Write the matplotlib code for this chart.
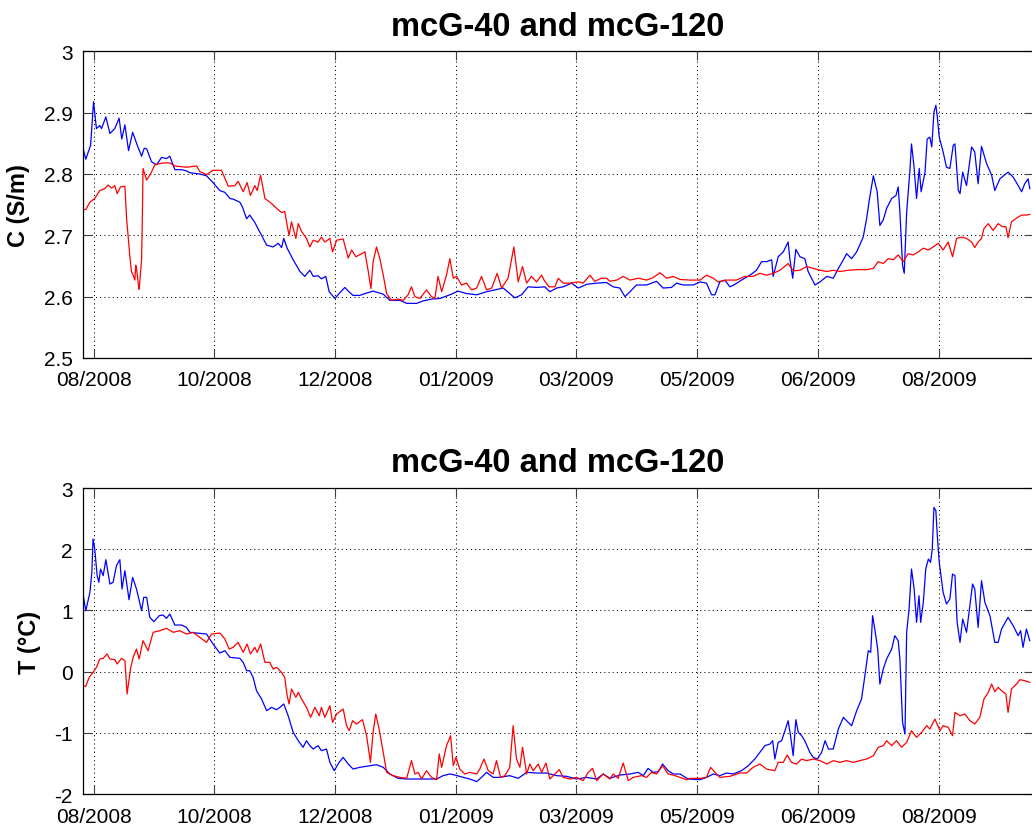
import numpy as np
import matplotlib
matplotlib.use("Agg")
import matplotlib.pyplot as plt

plt.rcParams['font.family'] = ['Liberation Sans', 'DejaVu Sans']

# days since 30 Aug 2008
tick_days = [0, 50, 100, 150, 200, 250, 300, 350]
tick_labels = ['08/2008', '10/2008', '12/2008', '01/2009', '03/2009', '05/2009', '06/2009', '08/2009']

# conductivity, mcG-40 (blue)
c40_day = [-4.3, -3.2, -1.2, 0.0, 1.2, 2.6, 3.3, 5.1, 6.8, 8.8, 10.6, 11.7, 13.0, 14.5, 16.2, 18.1, 19.9, 21.0,
           22.0, 24.0, 26.1, 28.2, 30.2, 31.6, 33.7, 36.5, 38.5, 39.9, 44.0, 46.8, 49.5, 52.3, 54.4, 56.5, 57.8,
           60.6, 61.7, 63.4, 64.7, 66.8, 69.6, 71.7, 74.4, 76.5, 77.9, 78.8, 80.2, 82.7, 85.5, 87.5, 89.6, 91.0,
           93.0, 94.4, 96.2, 97.6, 100.0, 101.7, 104.1, 105.5, 107.5, 110.3, 112.4, 115.8, 120.0, 122.7, 126.9,
           129.7, 133.8, 136.5, 140.0, 143.5, 147.6, 151.0, 154.5, 158.7, 162.8, 166.2, 169.7, 172.4, 174.5,
           177.3, 180.0, 183.5, 186.9, 189.0, 191.8, 194.5, 198.0, 200.8, 204.2, 208.4, 212.5, 215.2, 218.0,
           220.1, 222.2, 224.9, 229.1, 233.2, 235.9, 239.4, 241.5, 244.2, 248.4, 251.2, 253.9, 256.0, 257.4,
           259.4, 261.5, 263.6, 265.7, 268.4, 271.9, 274.6, 276.7, 278.8, 280.9, 281.5, 283.6, 285.7, 287.7,
           288.4, 289.6, 290.9, 292.6, 294.6, 296.0, 298.8, 300.9, 303.7, 306.4, 308.5, 310.6, 311.9, 314.0,
           316.1, 318.8, 320.2, 321.3, 323.0, 324.6, 325.7, 327.1, 328.5, 330.6, 332.4, 333.3, 334.0, 335.1,
           335.8, 336.8, 338.1, 338.8, 339.8, 340.9, 342.0, 342.8, 344.4, 345.3, 346.4, 347.2, 348.1, 348.9,
           349.5, 350.3, 351.9, 353.3, 354.7, 356.1, 356.8, 358.2, 358.9, 360.0, 361.6, 363.7, 365.0, 366.4,
           367.8, 369.9, 372.0, 373.3, 375.4, 378.8, 380.9, 383.0, 384.4, 385.7, 387.1, 387.8]
c40 = [2.841, 2.824, 2.847, 2.918, 2.874, 2.879, 2.874, 2.893, 2.866, 2.874, 2.891, 2.857, 2.880, 2.838, 2.868,
       2.847, 2.829, 2.842, 2.841, 2.820, 2.815, 2.827, 2.825, 2.829, 2.807, 2.807, 2.805, 2.802, 2.800, 2.797,
       2.786, 2.773, 2.770, 2.760, 2.759, 2.754, 2.746, 2.727, 2.733, 2.721, 2.700, 2.684, 2.681, 2.687, 2.680,
       2.695, 2.679, 2.660, 2.641, 2.633, 2.643, 2.633, 2.634, 2.629, 2.633, 2.608, 2.597, 2.605, 2.615, 2.609,
       2.602, 2.602, 2.605, 2.609, 2.604, 2.594, 2.594, 2.589, 2.589, 2.593, 2.596, 2.597, 2.603, 2.609, 2.605,
       2.603, 2.608, 2.611, 2.614, 2.605, 2.598, 2.603, 2.616, 2.615, 2.616, 2.608, 2.614, 2.616, 2.622, 2.614,
       2.620, 2.622, 2.623, 2.616, 2.614, 2.600, 2.608, 2.619, 2.619, 2.625, 2.614, 2.615, 2.622, 2.619, 2.619,
       2.624, 2.622, 2.603, 2.603, 2.624, 2.627, 2.616, 2.620, 2.627, 2.635, 2.643, 2.657, 2.657, 2.660, 2.633,
       2.665, 2.673, 2.689, 2.662, 2.630, 2.677, 2.665, 2.662, 2.641, 2.619, 2.624, 2.633, 2.630, 2.646, 2.660,
       2.670, 2.662, 2.673, 2.697, 2.727, 2.757, 2.797, 2.771, 2.716, 2.725, 2.744, 2.760, 2.765, 2.779, 2.738,
       2.651, 2.638, 2.738, 2.803, 2.849, 2.814, 2.760, 2.809, 2.771, 2.803, 2.857, 2.860, 2.844, 2.901, 2.912,
       2.893, 2.860, 2.836, 2.811, 2.809, 2.847, 2.849, 2.773, 2.768, 2.803, 2.781, 2.844, 2.836, 2.784, 2.845,
       2.817, 2.798, 2.773, 2.792, 2.803, 2.795, 2.781, 2.771, 2.784, 2.792, 2.776]

# conductivity, mcG-120 (red)
c120_day = [-4.3, -3.2, -1.5, 0.5, 2.6, 4.7, 6.0, 7.5, 8.8, 9.8, 11.2, 13.0, 13.7, 15.0, 15.7, 16.4, 17.1, 17.5,
            17.8, 18.6, 18.9, 19.9, 20.2, 20.5, 22.0, 24.0, 25.4, 28.8, 31.6, 33.7, 38.5, 42.7, 44.0, 46.8, 49.5,
            53.0, 55.8, 58.5, 59.9, 62.0, 63.6, 65.0, 66.8, 67.8, 69.2, 71.0, 73.7, 75.8, 77.9, 79.2, 80.2, 81.0,
            82.0, 83.8, 84.8, 86.2, 88.2, 89.6, 91.0, 93.0, 94.4, 95.8, 97.9, 99.0, 100.7, 103.4, 105.5, 106.9,
            108.7, 111.0, 112.4, 113.8, 114.9, 115.8, 117.2, 118.6, 120.0, 121.4, 123.4, 126.2, 128.3, 130.3,
            131.7, 133.1, 135.2, 137.9, 140.0, 141.4, 142.7, 144.2, 146.2, 147.6, 149.0, 150.4, 152.4, 154.5,
            156.6, 158.7, 160.7, 162.8, 164.9, 167.2, 169.0, 171.7, 173.1, 174.1, 175.9, 177.7, 179.4, 181.4,
            183.5, 185.6, 186.9, 188.7, 191.1, 192.5, 194.5, 197.3, 200.8, 202.8, 205.6, 207.6, 210.4, 212.5,
            213.9, 216.7, 219.4, 222.2, 225.6, 229.1, 231.8, 234.6, 237.4, 240.1, 242.9, 247.0, 251.2, 253.9,
            256.7, 258.7, 262.2, 266.3, 269.8, 273.2, 276.0, 278.8, 281.5, 284.3, 287.7, 289.8, 292.6, 295.3,
            298.1, 300.9, 303.7, 306.4, 309.2, 312.6, 316.1, 320.2, 323.0, 325.0, 327.1, 329.2, 331.2, 333.3,
            335.4, 337.4, 339.5, 341.6, 343.7, 345.8, 347.8, 349.9, 351.9, 354.0, 355.8, 357.5, 359.6, 361.6,
            363.7, 365.0, 366.4, 367.8, 368.8, 370.6, 372.6, 374.7, 376.5, 377.9, 378.8, 380.2, 382.3, 384.4,
            386.4, 387.8]
c120 = [2.742, 2.742, 2.754, 2.760, 2.773, 2.776, 2.782, 2.777, 2.781, 2.768, 2.779, 2.780, 2.727, 2.668, 2.641,
        2.635, 2.627, 2.651, 2.646, 2.619, 2.612, 2.660, 2.720, 2.809, 2.790, 2.803, 2.815, 2.818, 2.818, 2.813,
        2.811, 2.813, 2.804, 2.799, 2.806, 2.806, 2.780, 2.781, 2.788, 2.771, 2.786, 2.765, 2.781, 2.773, 2.798,
        2.760, 2.752, 2.744, 2.737, 2.739, 2.716, 2.700, 2.722, 2.695, 2.719, 2.706, 2.695, 2.681, 2.692, 2.689,
        2.697, 2.689, 2.695, 2.673, 2.692, 2.694, 2.663, 2.676, 2.665, 2.670, 2.673, 2.641, 2.613, 2.657, 2.681,
        2.662, 2.635, 2.605, 2.594, 2.596, 2.594, 2.603, 2.616, 2.600, 2.597, 2.611, 2.600, 2.597, 2.633, 2.608,
        2.635, 2.662, 2.630, 2.633, 2.619, 2.622, 2.611, 2.614, 2.633, 2.611, 2.614, 2.638, 2.614, 2.630, 2.660,
        2.681, 2.624, 2.649, 2.622, 2.633, 2.624, 2.635, 2.625, 2.616, 2.616, 2.630, 2.622, 2.622, 2.624, 2.622,
        2.635, 2.625, 2.630, 2.630, 2.625, 2.627, 2.633, 2.627, 2.630, 2.627, 2.631, 2.639, 2.630, 2.633, 2.628,
        2.627, 2.627, 2.635, 2.630, 2.624, 2.627, 2.627, 2.633, 2.633, 2.638, 2.635, 2.638, 2.643, 2.654, 2.642,
        2.643, 2.649, 2.646, 2.643, 2.641, 2.643, 2.641, 2.643, 2.644, 2.644, 2.646, 2.657, 2.654, 2.662, 2.660,
        2.668, 2.657, 2.670, 2.668, 2.673, 2.679, 2.676, 2.681, 2.687, 2.676, 2.689, 2.665, 2.695, 2.697, 2.695,
        2.689, 2.680, 2.689, 2.695, 2.711, 2.719, 2.708, 2.719, 2.714, 2.714, 2.696, 2.722, 2.728, 2.733, 2.733,
        2.734]

# temperature, mcG-40 (blue)
t40_day = [-4.3, -3.2, -1.5, -0.7, -0.2, 0.5, 1.5, 2.2, 2.9, 4.0, 5.1, 6.8, 8.1, 9.5, 10.9, 11.8, 13.0, 14.7,
           16.2, 17.8, 19.9, 20.8, 22.0, 23.3, 25.0, 27.2, 28.8, 30.2, 31.6, 33.7, 36.5, 38.5, 39.9, 44.0, 46.8,
           49.5, 52.3, 54.4, 56.5, 60.6, 62.0, 63.4, 64.7, 66.1, 67.5, 69.6, 71.7, 73.7, 75.8, 77.2, 78.8, 80.6,
           82.7, 84.8, 86.8, 88.2, 89.6, 91.0, 93.0, 94.4, 96.5, 97.9, 99.7, 101.7, 103.4, 105.5, 107.5, 110.3,
           114.5, 117.2, 120.0, 122.7, 126.2, 129.7, 135.2, 139.3, 142.1, 144.8, 147.6, 149.7, 153.1, 155.9,
           158.7, 160.7, 162.8, 165.5, 168.3, 172.4, 175.9, 179.4, 183.5, 187.6, 191.8, 195.9, 200.1, 204.2,
           208.4, 211.1, 213.9, 218.0, 222.2, 225.6, 227.7, 229.7, 231.8, 233.9, 235.7, 238.0, 240.1, 242.9,
           246.3, 251.2, 253.9, 256.7, 259.4, 262.2, 264.9, 268.4, 271.2, 273.9, 276.0, 278.1, 280.2, 281.3,
           282.2, 283.6, 285.0, 286.4, 287.7, 288.7, 289.8, 290.9, 291.9, 293.3, 294.6, 296.7, 298.1, 299.8,
           301.6, 303.0, 304.4, 306.4, 308.5, 310.6, 311.9, 314.0, 316.1, 318.1, 319.5, 320.9, 321.9, 322.7,
           323.6, 324.8, 325.7, 327.1, 328.5, 330.6, 331.9, 333.3, 334.0, 335.1, 336.1, 336.8, 337.8, 338.8,
           339.9, 340.9, 341.9, 342.6, 343.7, 344.7, 345.8, 346.7, 347.4, 348.1, 348.9, 349.5, 350.3, 351.9,
           353.3, 354.7, 355.8, 356.8, 357.7, 358.9, 360.0, 361.6, 363.0, 364.1, 365.0, 366.4, 367.8, 369.2,
           371.3, 373.3, 374.7, 376.1, 378.8, 380.9, 383.0, 384.0, 385.0, 386.4, 387.8]
t40 = [1.252, 0.996, 1.295, 1.622, 2.167, 2.003, 1.568, 1.459, 1.676, 1.568, 1.829, 1.431, 1.459, 1.731, 1.829,
       1.350, 1.649, 1.175, 1.540, 1.350, 0.996, 1.214, 1.214, 0.887, 0.816, 0.914, 0.925, 0.870, 0.941, 0.761,
       0.761, 0.723, 0.642, 0.625, 0.614, 0.451, 0.304, 0.342, 0.233, 0.217, 0.151, 0.015, 0.015, -0.094, -0.312,
       -0.448, -0.638, -0.584, -0.622, -0.584, -0.529, -0.720, -0.992, -1.129, -1.237, -1.129, -1.210, -1.265,
       -1.210, -1.292, -1.265, -1.483, -1.619, -1.483, -1.401, -1.510, -1.592, -1.564, -1.537, -1.521, -1.564,
       -1.673, -1.744, -1.755, -1.755, -1.755, -1.755, -1.700, -1.673, -1.690, -1.728, -1.755, -1.798, -1.728,
       -1.646, -1.728, -1.728, -1.700, -1.744, -1.646, -1.657, -1.657, -1.700, -1.711, -1.755, -1.728, -1.755,
       -1.673, -1.744, -1.690, -1.673, -1.646, -1.700, -1.581, -1.646, -1.635, -1.510, -1.619, -1.673, -1.673,
       -1.755, -1.766, -1.728, -1.673, -1.700, -1.657, -1.673, -1.619, -1.537, -1.428, -1.319, -1.210, -1.183,
       -1.129, -1.428, -1.156, -1.129, -0.965, -0.802, -1.047, -1.374, -0.785, -0.992, -1.047, -1.129, -1.319,
       -1.401, -1.428, -1.319, -1.129, -1.265, -1.265, -0.938, -0.747, -0.802, -0.883, -0.638, -0.448, -0.066,
       0.342, 0.315, 0.914, 0.696, 0.369, -0.203, 0.042, 0.206, 0.369, 0.587, 0.505, 0.206, -0.829, -1.020,
       0.642, 1.023, 1.676, 1.350, 0.805, 1.241, 0.805, 1.132, 1.676, 1.840, 1.785, 2.003, 2.684, 2.630, 2.221,
       1.785, 1.295, 1.105, 1.186, 1.595, 1.568, 0.805, 0.478, 0.859, 0.642, 1.078, 1.431, 1.350, 0.723, 1.486,
       1.132, 0.914, 0.478, 0.478, 0.696, 0.887, 0.750, 0.587, 0.669, 0.397, 0.696, 0.505]

# temperature, mcG-120 (red)
t120_day = [-4.3, -3.2, -1.8, -0.2, 1.2, 2.6, 4.0, 5.6, 6.8, 8.8, 9.8, 11.6, 13.0, 13.9, 15.3, 16.4, 17.8, 18.9,
            20.5, 22.6, 24.7, 27.5, 30.2, 33.0, 35.7, 38.5, 41.3, 44.0, 46.8, 48.9, 52.3, 54.4, 56.2, 57.8, 59.9,
            62.0, 63.6, 65.0, 66.8, 67.8, 69.2, 71.0, 73.0, 74.4, 75.8, 77.9, 79.2, 80.2, 81.0, 82.0, 83.8, 84.8,
            86.2, 88.2, 89.9, 91.7, 93.5, 94.4, 95.8, 97.9, 99.0, 100.7, 103.4, 104.8, 105.9, 107.3, 108.9, 111.4,
            113.1, 114.7, 115.8, 116.9, 118.3, 120.0, 121.4, 124.1, 126.9, 129.7, 131.7, 133.1, 134.5, 135.9,
            137.9, 140.0, 142.1, 143.2, 144.2, 146.2, 147.9, 149.0, 150.1, 151.7, 153.8, 155.9, 158.7, 160.0,
            161.7, 163.5, 165.5, 166.9, 168.6, 170.4, 172.4, 173.8, 175.2, 176.6, 177.7, 179.4, 180.7, 182.1,
            184.2, 185.6, 187.4, 189.0, 191.1, 192.9, 194.5, 197.3, 200.1, 202.8, 204.9, 206.7, 208.4, 211.1,
            213.9, 215.2, 217.3, 219.4, 221.5, 223.5, 227.0, 229.1, 231.1, 233.2, 235.7, 238.0, 240.1, 242.9,
            245.6, 247.0, 251.2, 253.9, 255.6, 257.4, 259.4, 263.6, 267.7, 270.5, 273.2, 276.0, 278.8, 282.2,
            283.6, 285.7, 287.3, 289.1, 291.2, 293.3, 295.3, 298.1, 300.9, 303.7, 306.4, 309.2, 311.9, 314.7,
            317.4, 320.2, 323.0, 325.0, 327.1, 328.5, 330.6, 332.6, 334.7, 336.8, 338.8, 340.9, 343.0, 345.1,
            346.4, 348.5, 350.6, 351.9, 354.0, 355.8, 356.8, 358.9, 360.9, 363.0, 365.0, 367.1, 368.8, 370.6,
            372.0, 373.3, 374.7, 376.1, 377.9, 378.8, 380.2, 382.3, 383.7, 385.7, 387.8]
t120 = [-0.230, -0.241, -0.094, -0.012, 0.070, 0.206, 0.217, 0.288, 0.206, 0.195, 0.124, 0.217, 0.179, -0.366,
        0.042, 0.233, 0.369, 0.206, 0.505, 0.342, 0.642, 0.669, 0.707, 0.642, 0.669, 0.614, 0.642, 0.560, 0.478,
        0.614, 0.631, 0.533, 0.369, 0.397, 0.478, 0.315, 0.451, 0.288, 0.397, 0.315, 0.451, 0.151, 0.151, 0.042,
        0.070, -0.012, -0.094, -0.393, -0.529, -0.284, -0.420, -0.339, -0.448, -0.584, -0.747, -0.584, -0.720,
        -0.584, -0.747, -0.557, -0.829, -0.693, -0.611, -0.883, -0.965, -0.802, -0.856, -0.785, -1.047, -1.483,
        -0.992, -0.693, -0.938, -1.319, -1.646, -1.700, -1.728, -1.744, -1.455, -1.673, -1.646, -1.755, -1.619,
        -1.728, -1.766, -1.346, -1.564, -1.210, -1.047, -1.537, -1.401, -1.592, -1.673, -1.646, -1.673, -1.592,
        -1.428, -1.619, -1.673, -1.455, -1.728, -1.700, -1.564, -0.883, -1.428, -1.564, -1.237, -1.673, -1.510,
        -1.619, -1.510, -1.646, -1.494, -1.755, -1.673, -1.602, -1.728, -1.755, -1.728, -1.782, -1.646, -1.581,
        -1.782, -1.673, -1.755, -1.673, -1.744, -1.494, -1.782, -1.728, -1.700, -1.728, -1.646, -1.673, -1.537,
        -1.673, -1.690, -1.728, -1.766, -1.744, -1.744, -1.728, -1.564, -1.646, -1.728, -1.711, -1.657, -1.657,
        -1.564, -1.510, -1.592, -1.619, -1.483, -1.483, -1.363, -1.483, -1.510, -1.428, -1.455, -1.428, -1.455,
        -1.510, -1.455, -1.483, -1.455, -1.483, -1.455, -1.428, -1.374, -1.237, -1.210, -1.129, -1.210, -1.129,
        -1.237, -1.156, -0.965, -1.074, -0.992, -0.883, -0.938, -0.775, -0.965, -0.883, -0.911, -1.047, -0.666,
        -0.720, -0.693, -0.802, -0.856, -0.747, -0.448, -0.339, -0.203, -0.328, -0.257, -0.312, -0.366, -0.666,
        -0.284, -0.203, -0.132, -0.148, -0.175]


def style_axes(ax, ylim, yticks, ylabel):
    ax.set_xlim(-4.5, 389.1)
    ax.set_ylim(*ylim)
    ax.set_yticks(yticks)
    ax.set_yticklabels([('%g' % v) for v in yticks])
    ax.set_xticks(tick_days)
    ax.set_xticklabels(tick_labels)
    ax.tick_params(direction='in', length=6.5, width=0.8, colors='0.25', labelcolor='black',
                   labelsize=15, top=True, right=True)
    ax.tick_params(axis='y', pad=7)
    ax.tick_params(axis='x', pad=9)
    ax.grid(True, color='black', linestyle=(0, (1, 3)), linewidth=0.75)
    for s in ax.spines.values():
        s.set_linewidth(0.9)
    ax.set_ylabel(ylabel, fontsize=17, fontweight='bold', labelpad=10)
    ax.set_title('mcG-40 and mcG-120', fontsize=23.5, fontweight='bold', pad=12)


fig = plt.figure(figsize=(10.32, 8.29), dpi=100)

ax1 = fig.add_axes([0.0801, 0.5670, 0.9208, 0.3699])
ax1.plot(c40_day, c40, color='blue', linewidth=0.9)
ax1.plot(c120_day, c120, color='red', linewidth=0.9)
style_axes(ax1, (2.5, 3.0), [2.5, 2.6, 2.7, 2.8, 2.9, 3.0], 'C (S/m)')

ax2 = fig.add_axes([0.0801, 0.0410, 0.9208, 0.3691])
ax2.plot(t40_day, t40, color='blue', linewidth=0.9)
ax2.plot(t120_day, t120, color='red', linewidth=0.9)
style_axes(ax2, (-2, 3), [-2, -1, 0, 1, 2, 3], 'T (°C)')

fig.savefig('out.png', dpi=100)
